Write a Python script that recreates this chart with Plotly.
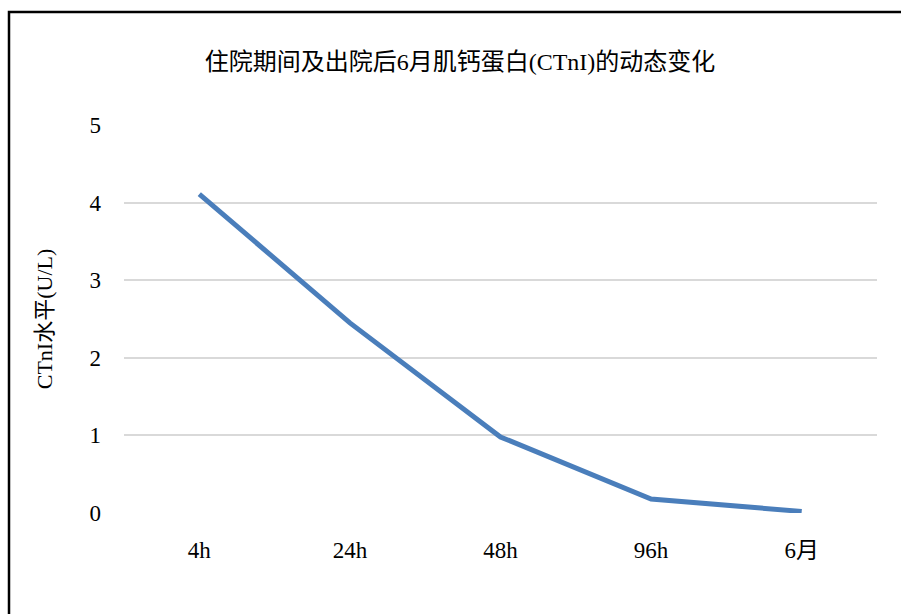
import plotly.graph_objects as go

categories = ["4h", "24h", "48h", "96h", "6月"]
ctni_values = [4.11, 2.45, 0.98, 0.18, 0.02]
y_ticks = [0, 1, 2, 3, 4, 5]

title_text = "住院期间及出院后6月肌钙蛋白(CTnI)的动态变化"
y_title = "CTnI水平(U/L)"

FONT = "Liberation Serif, 'Times New Roman', 'Noto Sans CJK SC', serif"

fig = go.Figure()
fig.add_trace(go.Scatter(
    x=categories, y=ctni_values, mode="lines",
    line=dict(color="#4a7ebb", width=5),
    showlegend=False, hoverinfo="x+y",
))

W, H = 901, 614
L, R, T, B = 124, 24, 125, 101
pw, ph = W - L - R, H - T - B

def px_x(x):
    return (x - L) / pw

def px_y(y):
    return (H - B - y) / ph

fig.update_layout(
    width=W, height=H,
    margin=dict(l=L, r=R, t=T, b=B, pad=0),
    paper_bgcolor="white", plot_bgcolor="white",
    font=dict(family=FONT, color="#000000", size=23),
    title=dict(text=title_text, x=460 / W, xanchor="center", xref="container",
               y=1 - 62 / H, yanchor="middle", yref="container",
               font=dict(size=24, family=FONT, color="#000000")),
    xaxis=dict(type="category", range=[-0.5, 4.5], showgrid=False,
               showline=False, zeroline=False, ticks="",
               tickfont=dict(size=23, family=FONT),
               ticklabelstandoff=21),
    yaxis=dict(range=[0, 5], tickvals=y_ticks, showgrid=True,
               gridcolor="#d9d9d9", gridwidth=1.5, zeroline=False,
               showline=False, ticks="",
               tickfont=dict(size=23, family=FONT),
               ticklabelstandoff=22,
               title=dict(text=y_title, standoff=30,
                          font=dict(size=22, family=FONT))),
    shapes=[dict(type="rect", xref="paper", yref="paper",
                 x0=px_x(9), x1=px_x(960), y0=px_y(680), y1=px_y(12),
                 line=dict(color="#000000", width=2.5),
                 fillcolor="rgba(0,0,0,0)", layer="above")],
)

fig.write_html("out.html")
